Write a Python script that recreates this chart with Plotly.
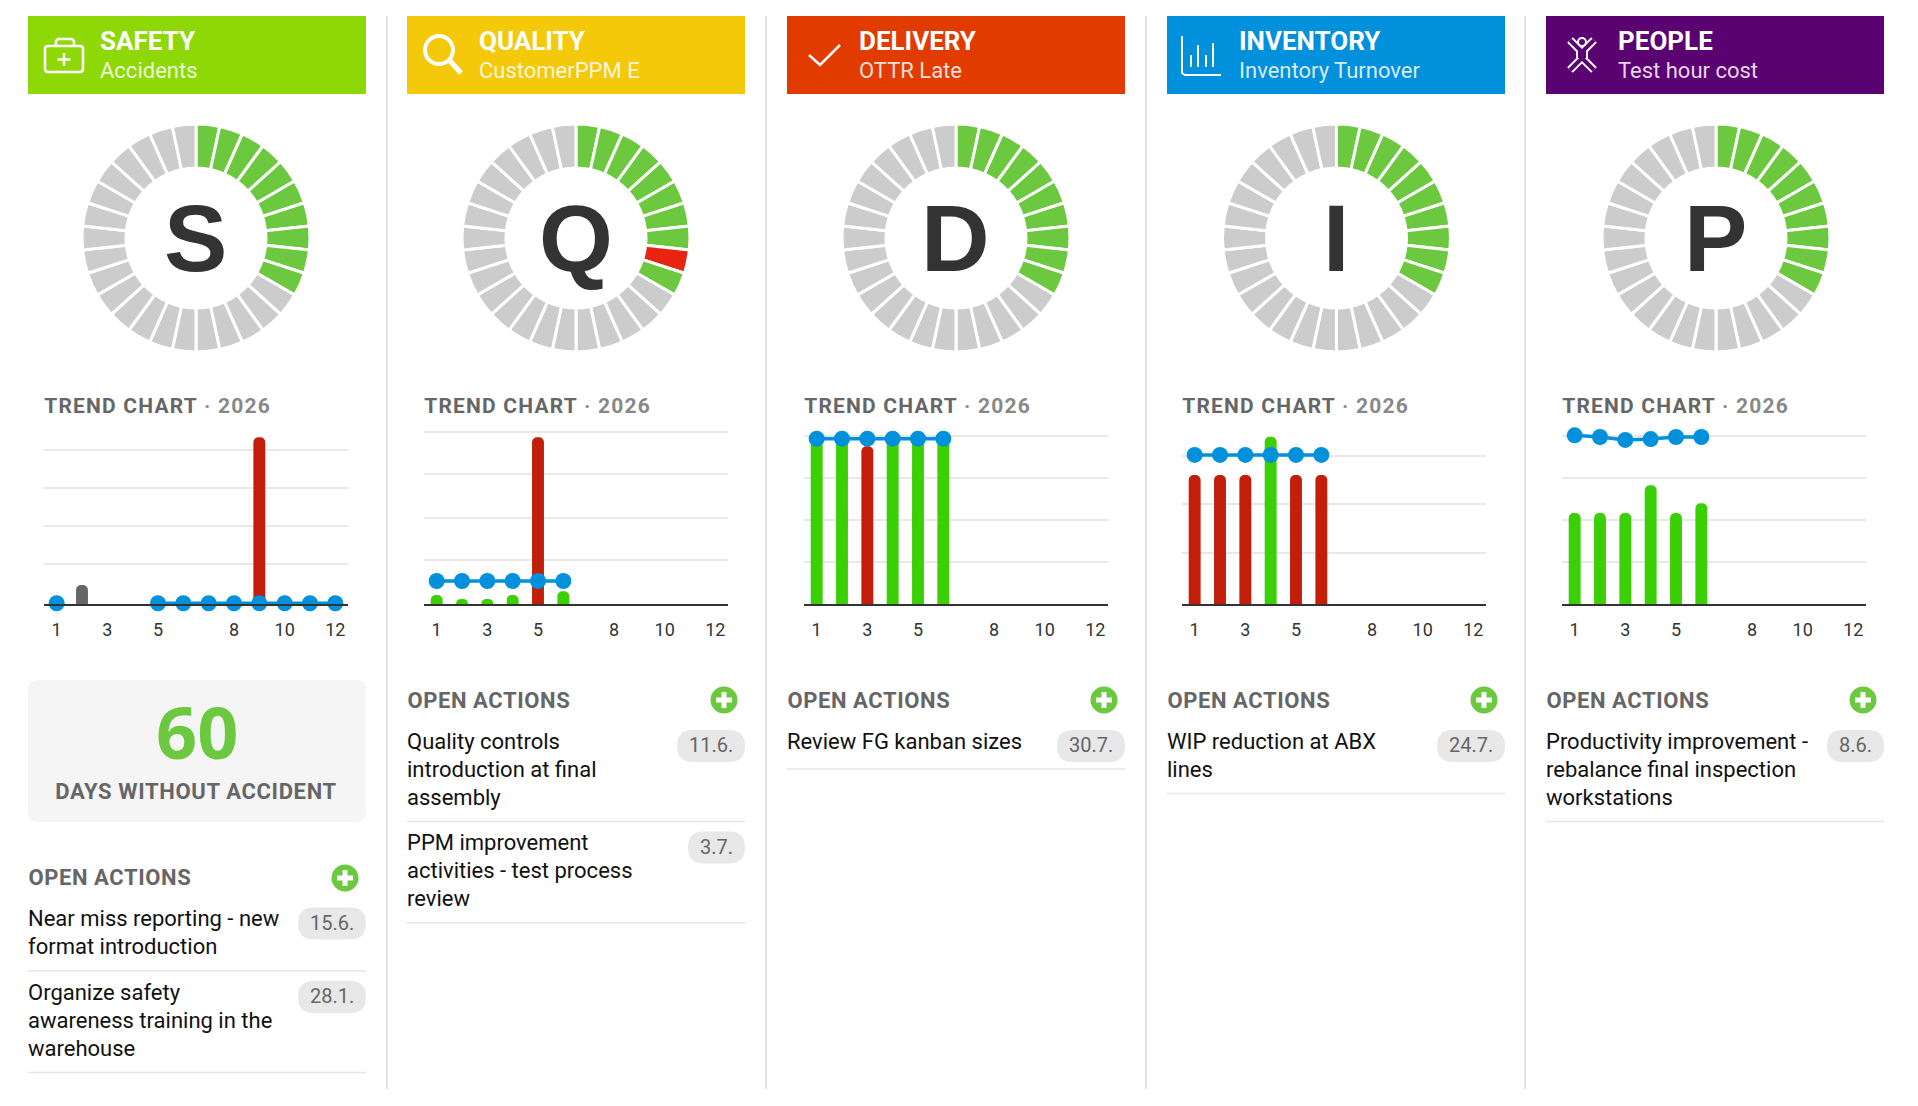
import plotly.graph_objects as go

W = 1918
H = 1106

months = [1, 2, 3, 4, 5, 6, 7, 8, 9, 10, 11, 12]
month_ticks = [1, 3, 5, 8, 10, 12]

titles = ["SAFETY", "QUALITY", "DELIVERY", "INVENTORY", "PEOPLE"]
subtitles = ["Accidents", "CustomerPPM E", "OTTR Late", "Inventory Turnover", "Test hour cost"]
letters = ["S", "Q", "D", "I", "P"]

# 0 = no data yet, 1 = ok, 2 = missed. One entry per segment, clockwise from the top
gauge_s = [1, 1, 1, 1, 1, 1, 1, 1, 1, 1, 0, 0, 0, 0, 0, 0, 0, 0, 0, 0, 0, 0, 0, 0, 0, 0, 0, 0, 0, 0]
gauge_q = [1, 1, 1, 1, 1, 1, 1, 1, 2, 1, 0, 0, 0, 0, 0, 0, 0, 0, 0, 0, 0, 0, 0, 0, 0, 0, 0, 0, 0, 0]
gauge_d = [1, 1, 1, 1, 1, 1, 1, 1, 1, 1, 0, 0, 0, 0, 0, 0, 0, 0, 0, 0, 0, 0, 0, 0, 0, 0, 0, 0, 0, 0]
gauge_i = [1, 1, 1, 1, 1, 1, 1, 1, 1, 1, 0, 0, 0, 0, 0, 0, 0, 0, 0, 0, 0, 0, 0, 0, 0, 0, 0, 0, 0, 0]
gauge_p = [1, 1, 1, 1, 1, 1, 1, 1, 1, 1, 0, 0, 0, 0, 0, 0, 0, 0, 0, 0, 0, 0, 0, 0, 0, 0, 0, 0, 0, 0]

# bar values, month by month
bars_s = [None, 0.5, None, None, None, None, None, None, 4.39, None, None, None]
bars_q = [0.21, 0.12, 0.12, 0.21, 3.91, 0.30, None, None, None, None, None, None]
bars_d = [3.90, 3.90, 3.76, 3.90, 3.90, 3.90, None, None, None, None, None, None]
bars_i = [2.63, 2.63, 2.63, 3.41, 2.63, 2.63, None, None, None, None, None, None]
bars_p = [2.17, 2.17, 2.17, 2.83, 2.17, 2.40, None, None, None, None, None, None]

# 1 = ok, 2 = missed, 3 = neutral
state_s = [0, 3, 0, 0, 0, 0, 0, 0, 2, 0, 0, 0]
state_q = [1, 1, 1, 1, 2, 1, 0, 0, 0, 0, 0, 0]
state_d = [1, 1, 2, 1, 1, 1, 0, 0, 0, 0, 0, 0]
state_i = [2, 2, 2, 1, 2, 2, 0, 0, 0, 0, 0, 0]
state_p = [1, 1, 1, 1, 1, 1, 0, 0, 0, 0, 0, 0]

# target line
target_s = [0.02, None, None, None, 0.02, 0.02, 0.02, 0.02, 0.02, 0.02, 0.02, 0.02]
target_q = [0.54, 0.54, 0.54, 0.54, 0.54, 0.54, None, None, None, None, None, None]
target_d = [3.94, 3.94, 3.94, 3.94, 3.94, 3.94, None, None, None, None, None, None]
target_i = [3.04, 3.04, 3.04, 3.04, 3.04, 3.04, None, None, None, None, None, None]
target_p = [4.02, 3.98, 3.91, 3.93, 3.98, 3.98, None, None, None, None, None, None]

grid_s = [1.05, 2.05, 3.05, 4.05]
grid_q = [1.04, 2.02, 3.04, 4.04]
grid_d = [1.01, 2.0, 3.0, 4.01]
grid_i = [1.03, 2.04, 3.02]
grid_p = [1.01, 2.0, 3.0, 4.01]

ymax = [4.74, 4.22, 4.29, 3.67, 4.29]

actions_s = [
    (["Near miss reporting - new", "format introduction"], "15.6."),
    (["Organize safety", "awareness training in the", "warehouse"], "28.1."),
]
actions_q = [
    (["Quality controls", "introduction at final", "assembly"], "11.6."),
    (["PPM improvement", "activities - test process", "review"], "3.7."),
]
actions_d = [(["Review FG kanban sizes"], "30.7.")]
actions_i = [(["WIP reduction at ABX", "lines"], "24.7.")]
actions_p = [(["Productivity improvement -", "rebalance final inspection", "workstations"], "8.6.")]

days_without = "60"
days_label = "DAYS WITHOUT ACCIDENT"

gauges = [gauge_s, gauge_q, gauge_d, gauge_i, gauge_p]
bars = [bars_s, bars_q, bars_d, bars_i, bars_p]
states = [state_s, state_q, state_d, state_i, state_p]
targets = [target_s, target_q, target_d, target_i, target_p]
grids = [grid_s, grid_q, grid_d, grid_i, grid_p]
actions = [actions_s, actions_q, actions_d, actions_i, actions_p]

# layout, in pixels of the page
card_x = [28, 407, 787, 1167, 1546]
card_w = 338
header_colors = ["#8fd808", "#f4c90a", "#e23b00", "#0090dc", "#5b0272"]
divider_x = [387, 766, 1146, 1525]
axis_x = [44, 424, 804, 1182, 1562]
axis_w = 304
axis_top, axis_bottom = 424, 604
gauge_cy, gauge_r = 238, 114
gauge_cx = [196, 576, 956, 1336.5, 1716]
actions_title_y = [878, 700, 700, 700, 700]
first_line_y = [918.5, 741, 741, 741, 741]

# the letter spacing below grows text both ways from its middle
TREND_SHIFT = 11
OPEN_SHIFT = 3.6

GREEN = "#6cc93f"
GAUGE_COLORS = {0: "#cccccc", 1: GREEN, 2: "#e8230f"}
BAR_COLORS = {0: "#ffffff", 1: "#3ad003", 2: "#c21e0a", 3: "#666666"}
BLUE = "#0090dc"
FONT = "Roboto"


def px(x):
    return x / W


def py(y):
    return 1 - y / H


def path(points, close=False):
    d = "M" + " L".join(f"{px(x):.5f},{py(y):.5f}" for x, y in points)
    return d + (" Z" if close else "")


def rounded(x0, y0, x1, y1, r):
    a, b = px, py
    return (
        f"M{a(x0 + r)},{b(y0)} L{a(x1 - r)},{b(y0)} Q{a(x1)},{b(y0)} {a(x1)},{b(y0 + r)} "
        f"L{a(x1)},{b(y1 - r)} Q{a(x1)},{b(y1)} {a(x1 - r)},{b(y1)} "
        f"L{a(x0 + r)},{b(y1)} Q{a(x0)},{b(y1)} {a(x0)},{b(y1 - r)} "
        f"L{a(x0)},{b(y0 + r)} Q{a(x0)},{b(y0)} {a(x0 + r)},{b(y0)} Z"
    )


shapes = []
annotations = []


def add_fill(d, color):
    shapes.append(dict(type="path", xref="paper", yref="paper", path=d, fillcolor=color, line_width=0))


def add_line(points, color, width):
    shapes.append(
        dict(
            type="path",
            xref="paper",
            yref="paper",
            path=path(points),
            line=dict(color=color, width=width),
        )
    )


def add_circle(cx, cy, r, fill=None, line=None, width=0):
    shapes.append(
        dict(
            type="circle",
            xref="paper",
            yref="paper",
            x0=px(cx - r),
            x1=px(cx + r),
            y0=py(cy + r),
            y1=py(cy - r),
            fillcolor=fill or "rgba(0,0,0,0)",
            line=dict(color=line or "rgba(0,0,0,0)", width=width),
        )
    )


def add_text(x, y, text, size, color, weight=400, anchor="left", family=FONT):
    annotations.append(
        dict(
            xref="paper",
            yref="paper",
            x=px(x),
            y=py(y),
            text=text,
            showarrow=False,
            xanchor=anchor,
            yanchor="middle",
            borderpad=0,
            font=dict(family=family, size=size, color=color, weight=weight),
        )
    )


def draw_icon(i):
    white = "#ffffff"
    if i == 0:
        shapes.append(
            dict(
                type="path",
                xref="paper",
                yref="paper",
                path=rounded(45, 46, 83, 72, 3),
                line=dict(color=white, width=2.5),
            )
        )
        shapes.append(
            dict(
                type="path",
                xref="paper",
                yref="paper",
                path=path([(56, 45), (56, 41), (58, 39), (72, 39), (74, 41), (74, 45)]),
                line=dict(color=white, width=2.5),
            )
        )
        add_line([(64, 53), (64, 66)], white, 2.5)
        add_line([(57.5, 59.5), (70.5, 59.5)], white, 2.5)
    elif i == 1:
        add_circle(439, 50, 14, line=white, width=4)
        add_line([(450, 61), (461, 73)], white, 5)
    elif i == 2:
        add_line([(809, 55), (820, 65), (840, 45)], white, 2.5)
    elif i == 3:
        add_line([(1182, 36), (1182, 73), (1185, 75), (1221, 75)], white, 2)
        add_line([(1191, 67), (1191, 55)], white, 2)
        add_line([(1198, 67), (1198, 45)], white, 2)
        add_line([(1206, 67), (1206, 55)], white, 2)
        add_line([(1213, 67), (1213, 43)], white, 2)
    else:
        purple = header_colors[4]
        arms = [(1570, 40), (1582, 52), (1594, 40)]
        torso = [(1582, 50), (1582, 58)]
        legs = [(1570, 70), (1582, 58), (1594, 70)]
        add_line(arms, white, 8)
        add_line(legs, white, 8)
        add_line(torso, white, 12)
        add_line(arms, purple, 4)
        add_line(legs, purple, 4)
        add_line(torso, purple, 8)
        add_circle(1582, 42, 4, fill=purple, line=white, width=2)


fig = go.Figure()

for i in range(5):
    x0 = card_x[i]
    x1 = x0 + card_w
    name = "" if i == 0 else str(i + 1)

    # header
    add_fill(rounded(x0, 16, x1, 94, 0.01), header_colors[i])
    draw_icon(i)
    add_text(x0 + 71, 41, titles[i], 26, "#ffffff", 700)
    add_text(x0 + 71, 70, subtitles[i], 22, "rgba(255,255,255,0.85)")

    # gauge
    cx = gauge_cx[i]
    fig.add_trace(
        go.Pie(
            values=[1 for _ in gauges[i]],
            marker=dict(
                colors=[GAUGE_COLORS[s] for s in gauges[i]],
                line=dict(color="#ffffff", width=3),
            ),
            hole=0.614,
            sort=False,
            direction="clockwise",
            rotation=0,
            textinfo="none",
            hoverinfo="skip",
            showlegend=False,
            domain=dict(
                x=[px(cx - gauge_r), px(cx + gauge_r)],
                y=[py(gauge_cy + gauge_r), py(gauge_cy - gauge_r)],
            ),
        )
    )
    add_text(cx - 0.5, gauge_cy, letters[i], 95, "#333333", 700, "center", "Liberation Sans")

    # trend
    add_text(
        axis_x[i] - 1 + TREND_SHIFT,
        406,
        'TREND CHART <span style="color:#888888">· 2026</span>',
        21,
        "#666666",
        700,
    )
    fig.add_trace(
        go.Bar(
            x=months,
            y=bars[i],
            width=0.47,
            marker=dict(color=[BAR_COLORS[s] for s in states[i]], line_width=0),
            xaxis=f"x{name}",
            yaxis=f"y{name}",
            showlegend=False,
            hoverinfo="skip",
        )
    )
    fig.add_trace(
        go.Scatter(
            x=months,
            y=targets[i],
            mode="lines+markers",
            line=dict(color=BLUE, width=3.5),
            marker=dict(color=BLUE, size=16),
            connectgaps=False,
            cliponaxis=False,
            xaxis=f"x{name}",
            yaxis=f"y{name}",
            showlegend=False,
            hoverinfo="skip",
        )
    )
    fig.update_layout(
        {
            f"xaxis{name}": dict(
                domain=[px(axis_x[i]), px(axis_x[i] + axis_w)],
                anchor=f"y{name}",
                range=[0.5, 12.5],
                tickvals=month_ticks,
                ticktext=[str(m) for m in month_ticks],
                tickfont=dict(family=FONT, size=18, color="#333333"),
                ticks="outside",
                ticklen=8,
                tickcolor="rgba(0,0,0,0)",
                showgrid=False,
                zeroline=False,
                showline=True,
                linecolor="#333333",
                linewidth=2,
            ),
            f"yaxis{name}": dict(
                domain=[py(axis_bottom), py(axis_top)],
                anchor=f"x{name}",
                range=[0, ymax[i]],
                tickvals=grids[i],
                showticklabels=False,
                showgrid=True,
                gridcolor="#e8e8e8",
                gridwidth=2,
                zeroline=False,
            ),
        }
    )

    # open actions
    add_text(x0 - 1 + OPEN_SHIFT, actions_title_y[i], "OPEN ACTIONS", 22, "#666666", 700)
    plus_x = x0 + 317
    plus_y = actions_title_y[i]
    add_circle(plus_x, plus_y, 13.5, fill=GREEN)
    add_line([(plus_x - 8, plus_y), (plus_x + 8, plus_y)], "#ffffff", 5)
    add_line([(plus_x, plus_y - 8), (plus_x, plus_y + 8)], "#ffffff", 5)

    y = first_line_y[i]
    for lines, date in actions[i]:
        pill_w = 68 if len(date) == 5 else 57
        add_fill(rounded(x1 - pill_w, y - 11, x1, y + 21, 15.9), "#e8e8e8")
        add_text(x1 - pill_w / 2, y + 4, date, 20, "#666666", 400, "center")
        for k, line in enumerate(lines):
            add_text(x0 - 1, y + 28 * k, line, 22, "#111111")
        sep = max(y + 28 * (len(lines) - 1) + 24.5, y + 28)
        add_line([(x0, sep), (x1, sep)], "#e5e5e5", 1.5)
        y = sep + 21

# kpi box
add_fill(rounded(28, 680, 366, 822, 10), "#f5f5f5")
add_text(196.5, 730.5, days_without, 72, GREEN, 700, "center", "Open Sans")
add_text(196, 792, days_label, 22, "#666666", 700, "center")

for x in divider_x:
    add_line([(x, 16), (x, 1089)], "#e3e3e3", 2)

fig.update_layout(
    width=W,
    height=H,
    margin=dict(l=0, r=0, t=0, b=0),
    paper_bgcolor="#ffffff",
    plot_bgcolor="#ffffff",
    barcornerradius=6,
    barmode="overlay",
    showlegend=False,
    shapes=shapes,
    annotations=annotations,
    font=dict(family=FONT),
)

# plotly has no letter spacing for annotations, the small caps headings need it
spacing_js = """
document.body.style.margin = '0';
document.body.style.overflow = 'hidden';
function spaceHeadings() {
  document.querySelectorAll('.annotation-text').forEach(function (t) {
    var s = t.textContent;
    if (s.indexOf('TREND') === 0) t.style.letterSpacing = '1.2px';
    if (s === 'OPEN ACTIONS') t.style.letterSpacing = '0.6px';
    if (s === 'DAYS WITHOUT ACCIDENT') t.style.letterSpacing = '0.65px';
  });
}
spaceHeadings();
setTimeout(spaceHeadings, 100);
"""

fig.write_html(
    "out.html",
    config={"displayModeBar": False},
    post_script=spacing_js,
)
